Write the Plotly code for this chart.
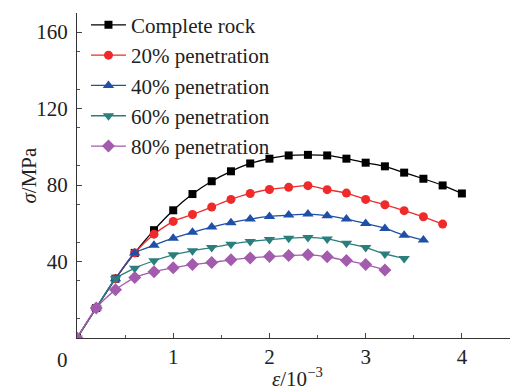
import plotly.graph_objects as go

strain = [0, 0.2, 0.4, 0.6, 0.8, 1.0, 1.2, 1.4, 1.6, 1.8, 2.0, 2.2, 2.4, 2.6, 2.8, 3.0, 3.2, 3.4, 3.6, 3.8, 4.0]

complete_rock = [0, 15.7, 31, 44.5, 56.4, 66.8, 75.3, 82, 87.2, 91.3, 93.8, 95.5, 95.8, 95.5, 93.8, 91.7, 89.8, 86.5, 83.3, 79.8, 75.6]
pen20 = [0, 15.7, 31, 44.5, 54.3, 61, 64.6, 68.5, 72.5, 75.6, 77.7, 78.8, 79.7, 77.6, 75.8, 72.5, 69.7, 66.6, 63.4, 59.6]
pen40 = [0, 15.7, 31, 44.5, 48.5, 52.2, 55.3, 58, 60.3, 62.2, 63.6, 64.3, 64.8, 64, 62.2, 59.9, 57.3, 53.8, 51.2]
pen60 = [0, 15.7, 31, 36.5, 40.4, 43.5, 45.6, 47.3, 49.1, 50.5, 51.5, 52.2, 52.6, 51.8, 49.6, 47.3, 44, 41.6]
pen80 = [0, 15.7, 25.3, 31.6, 34.7, 36.7, 38.4, 39.5, 40.9, 41.9, 42.6, 43.1, 43.5, 42.5, 40.5, 38.4, 35.6]

series = [
    ("Complete rock", complete_rock, "#000000", "square", 8),
    ("20% penetration", pen20, "#EE2A2A", "circle", 9),
    ("40% penetration", pen40, "#1F4FA6", "triangle-up", 10),
    ("60% penetration", pen60, "#2A7E7C", "triangle-down", 10),
    ("80% penetration", pen80, "#A35BAD", "diamond", 10),
]

fig = go.Figure()
for i, (name, vals, color, sym, sz) in enumerate(series):
    fig.add_trace(go.Scatter(
        x=strain[:len(vals)], y=vals, name=name, mode="lines+markers",
        line=dict(color=color, width=1.3, shape="spline", smoothing=0.6),
        marker=dict(symbol=sym, size=sz, color=color),
        legendgroup=f"g{i}",
    ))

font = "Liberation Serif, Times New Roman, serif"
fs = 21
fig.update_layout(
    width=521, height=390,
    margin=dict(l=77, r=11, t=13, b=52, autoexpand=False),
    paper_bgcolor="white", plot_bgcolor="white",
    font=dict(family=font, size=fs, color="#222222"),
    showlegend=True,
    legend=dict(x=0.165, y=0.988, xref="container", yref="container",
                xanchor="left", yanchor="top",
                bgcolor="rgba(0,0,0,0)", font=dict(size=fs, family=font),
                tracegroupgap=0, itemwidth=35),
    xaxis=dict(range=[0, 4.5], tickvals=[1, 2, 3, 4], ticks="inside", ticklen=5,
               showline=True, linecolor="#333333", linewidth=1.2, showgrid=False,
               zeroline=False, tickfont=dict(size=fs, family=font), automargin=False,
               minor=dict(dtick=0.5, ticks="inside", ticklen=3, tickcolor="#555555")),
    yaxis=dict(range=[0, 170], tickvals=[40, 80, 120, 160], ticks="inside", ticklen=5,
               showline=True, linecolor="#333333", linewidth=1.2, showgrid=False,
               zeroline=False, tickfont=dict(size=fs, family=font), ticklabelstandoff=4,
               automargin=False,
               minor=dict(tick0=10, dtick=20, ticks="inside", ticklen=3, tickcolor="#555555")),
    annotations=[
        dict(text="0", x=0, y=0, xref="paper", yref="paper",
             xanchor="right", yanchor="top", xshift=-7, yshift=-8,
             showarrow=False, font=dict(size=fs, family=font)),
        dict(text="<i>ε</i>/10<sup>−3</sup>", x=0.51, y=0, xref="paper", yref="paper",
             xanchor="center", yanchor="top", yshift=-24,
             showarrow=False, font=dict(size=fs, family=font)),
        dict(text="<i>σ</i>/MPa", x=0, y=0.5, xref="paper", yref="paper",
             xanchor="center", yanchor="middle", xshift=-49, textangle=-90,
             showarrow=False, font=dict(size=fs, family=font)),
    ],
)

fig.write_html("out.html")
